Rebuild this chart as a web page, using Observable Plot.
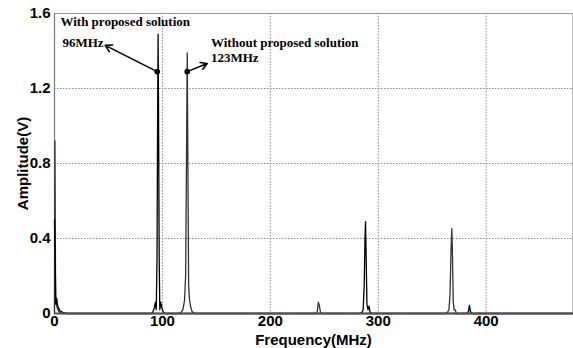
<!DOCTYPE html>
<html>
<head>
<meta charset="utf-8">
<script src="https://cdn.jsdelivr.net/npm/d3@7"></script>
<script src="https://cdn.jsdelivr.net/npm/@observablehq/plot@0.6"></script>
<style>
  html, body { margin: 0; padding: 0; background: #fff; }
  #chart svg { display: block; }
</style>
</head>
<body>
<div id="chart"></div>
<script>
// Spectrum "with proposed solution" (96 MHz fundamental)
const freqWith = [0, 0.6, 1.2, 2, 3, 5, 8, 12,
  89, 91, 92.5, 93.5, 94.3, 95, 95.6, 96, 96.4, 97, 97.6, 98.5, 99.5, 101, 103,
  282, 285, 286, 287, 287.7, 288.2, 288.8, 289.5, 290.5, 291.5, 292.5, 295,
  382, 383.5, 384.5, 385.5, 387, 480];
const ampWith = [0.5, 0.3, 0.05, 0.08, 0.04, 0.015, 0.005, 0,
  0, 0.005, 0.03, 0.06, 0.02, 0.3, 1.1, 1.49, 1.1, 0.3, 0.02, 0.06, 0.03, 0.005, 0,
  0, 0.005, 0.02, 0.15, 0.4, 0.49, 0.3, 0.05, 0.02, 0.04, 0.005, 0,
  0, 0.01, 0.043, 0.01, 0, 0];

// Spectrum "without proposed solution" (123 MHz fundamental)
const freqWithout = [0, 0.4, 1, 1.5, 2.5, 4, 7,
  115, 117, 119, 120.5, 121.5, 122.3, 123, 123.6, 124.3, 125, 126, 127.5, 130,
  242, 243.5, 244.5, 245.5, 246.5, 248,
  362, 364, 365.5, 366.5, 367.5, 368.2, 368.8, 369.5, 370.3, 371.2, 372.5, 480];
const ampWithout = [0, 0.92, 0.1, 0.06, 0.03, 0.01, 0,
  0, 0.005, 0.02, 0.07, 0.2, 0.8, 1.39, 0.8, 0.15, 0.08, 0.04, 0.01, 0,
  0, 0.01, 0.06, 0.04, 0.005, 0,
  0, 0.005, 0.02, 0.1, 0.35, 0.453, 0.3, 0.06, 0.02, 0.02, 0, 0];

const xTicks = [0, 100, 200, 300, 400];
const yTicks = [0, 0.4, 0.8, 1.2, 1.6];
const xLabel = "Frequency(MHz)";
const yLabel = "Amplitude(V)";

// Annotations
const annoTexts = ["With proposed solution", "96MHz", "Without proposed solution", "123MHz"];
const annoX = [5.5, 7.4, 145, 145];
const annoY = [1.557, 1.445, 1.445, 1.365];
const markerX = [95.2, 123];
const markerY = [1.29, 1.29];
const arrowEndX = [47, 141.5];
const arrowEndY = [1.43, 1.333];

const withData = freqWith.map((f, i) => ({f, a: ampWith[i]}));
const withoutData = freqWithout.map((f, i) => ({f, a: ampWithout[i]}));
const annos = annoTexts.map((t, i) => ({t, x: annoX[i], y: annoY[i]}));
const markers = markerX.map((x, i) => ({x, y: markerY[i], x2: arrowEndX[i], y2: arrowEndY[i]}));

const chart = Plot.plot({
  width: 573,
  height: 348,
  marginLeft: 54,
  marginRight: 1,
  marginTop: 13,
  marginBottom: 35,
  style: {fontFamily: "Arial, 'Liberation Sans', sans-serif", fontWeight: "bold", background: "#fff", color: "#000"},
  x: {domain: [0, 480]},
  y: {domain: [0, 1.6]},
  marks: [
    Plot.gridX(xTicks.slice(1), {stroke: "#888", strokeOpacity: 1, strokeDasharray: "1.5,1.5"}),
    Plot.gridY(yTicks.slice(1, 4), {stroke: "#888", strokeOpacity: 1, strokeDasharray: "1.5,1.5"}),
    Plot.ruleY([1.6], {stroke: "#999", strokeWidth: 1.2}),
    Plot.ruleX([0], {stroke: "#777", strokeWidth: 1.2}),
    Plot.ruleX([480], {stroke: "#bbb", strokeWidth: 1}),
    Plot.line(withoutData, {x: "f", y: "a", stroke: "#333", strokeWidth: 1.3}),
    Plot.line(withData, {x: "f", y: "a", stroke: "#000", strokeWidth: 1.3}),
    Plot.ruleY([0], {stroke: "#555", strokeWidth: 2.2}),
    Plot.axisX({ticks: xTicks, tickSize: 0, tickPadding: 2, fontSize: 15, fontWeight: "bold",
      label: xLabel, labelAnchor: "center", labelOffset: 31, labelArrow: "none"}),
    Plot.axisY({ticks: yTicks, tickSize: 0, tickPadding: 4, fontSize: 15, fontWeight: "bold",
      tickFormat: d => d === 0 ? "0" : d.toFixed(1),
      label: yLabel, labelAnchor: "center", labelOffset: 37, labelArrow: "none"}),
    Plot.arrow(markers, {x1: "x", y1: "y", x2: "x2", y2: "y2", stroke: "#000", strokeWidth: 1.6, headLength: 7}),
    Plot.dot(markers, {x: "x", y: "y", r: 2.8, fill: "#000"}),
    Plot.text(annos, {x: "x", y: "y", text: "t", textAnchor: "start", fontSize: 13, fontWeight: "bold",
      fontFamily: "'Liberation Serif', 'Times New Roman', serif", fill: "#000"})
  ]
});
document.getElementById("chart").appendChild(chart);
</script>
</body>
</html>
